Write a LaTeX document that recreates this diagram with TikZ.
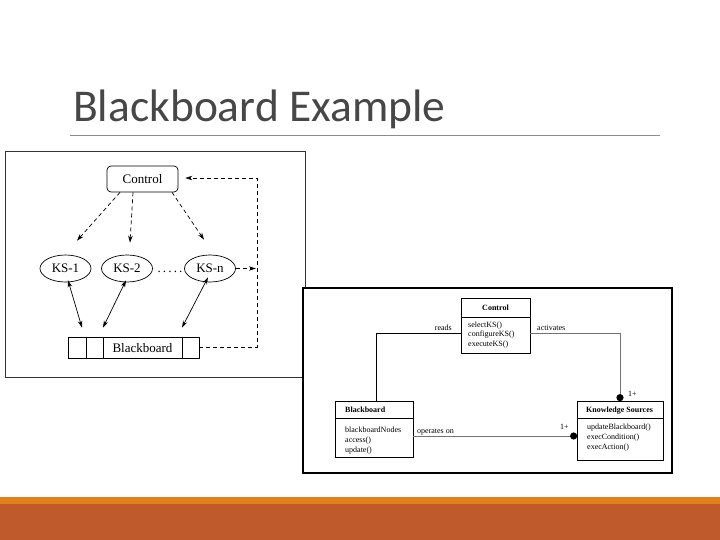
\documentclass[tikz,border=0pt]{standalone}
\usepackage{fontspec}
\setmainfont{Liberation Serif}
\newfontfamily\titlefont{Carlito}
\usetikzlibrary{arrows.meta,shapes.geometric}
\definecolor{titlegray}{HTML}{474747}
\definecolor{barlight}{HTML}{E08219}
\definecolor{bardark}{HTML}{BE5A2C}
\tikzset{
  lfont/.style={font=\fontsize{13}{15}\selectfont},
  rfont/.style={font=\fontsize{8}{9.5}\selectfont, inner sep=0},
  rbold/.style={font=\bfseries\fontsize{8}{9.5}\selectfont, inner sep=0},
  dasharrow/.style={dash pattern=on 4pt off 3pt, line width=0.7pt, -{Stealth[length=7pt,width=4.5pt]}},
  dblarrow/.style={line width=0.7pt, {Stealth[length=7pt,width=4.5pt]}-{Stealth[length=7pt,width=4.5pt]}},
  ksell/.style={ellipse, draw, line width=0.7pt, minimum width=51pt, minimum height=27pt, inner sep=0, lfont},
  classbox/.style={draw, line width=0.7pt, inner sep=0},
}
\begin{document}
\begin{tikzpicture}[x=1pt,y=-1pt]
\useasboundingbox (0,0) rectangle (720,540);
% title
\node[anchor=base west, inner sep=0, text=titlegray, font=\titlefont\fontsize{45.5}{50}\selectfont] (title) at (73,122) {Blackboard Example};
\draw[black!45, line width=1pt] (70,136) -- (660,136);
% bottom bars
\fill[barlight] (0,497) rectangle (720,504);
\fill[bardark] (0,504) rectangle (720,540);

% ---------- left diagram ----------
\draw[black!80, line width=1pt] (5,152) rectangle (305,377);
\node[draw, line width=0.7pt, rounded corners=4pt, minimum width=71pt, minimum height=26pt, inner sep=0, lfont] (ctl) at (142.5,179) {Control};
\node[ksell] (ks1) at (65.5,268.5) {KS-1};
\node[ksell] (ks2) at (127,268.5) {KS-2};
\node[ksell] (ksn) at (210,268.5) {KS-n};
\node[lfont, inner sep=0, anchor=base] (dots) at (170,272) {.\,.\,.\,.\,.};
\node[draw, line width=0.7pt, minimum width=131pt, minimum height=21pt, inner sep=0] (bb) at (133.5,347.5) {};
\draw[line width=0.7pt] (86,337) -- (86,358) (103,337) -- (103,358) (182,337) -- (182,358);
\node[lfont, inner sep=0] (bbt) at (142.5,348) {Blackboard};
% dashed arrows
\draw[dasharrow] ([xshift=-22.5pt]ctl.south) -- ([shift={(11.5,-14)}]ks1.north);
\draw[dasharrow] ([xshift=-9.5pt]ctl.south) -- ([shift={(3,-12)}]ks2.north);
\draw[dasharrow] ([xshift=29.5pt]ctl.south) -- ([shift={(-6,-15)}]ksn.north);
\coordinate (fbx) at (257,0);
\draw[dasharrow] (bb.east) -- (bb.east -| fbx) -- (fbx |- 0,178) -- ([shift={(7,-1)}]ctl.east);
\draw[dasharrow] (ksn.east) -- ([xshift=20pt]ksn.east);
% solid double arrows
\draw[dblarrow] ([shift={(2.5,-2)}]ks1.south) -- ([shift={(-51.5,-9)}]bb.north);
\draw[dblarrow] ([shift={(-1,-2)}]ks2.south) -- ([shift={(-30.5,-9)}]bb.north);
\draw[dblarrow] ([shift={(-2,-5)}]ksn.south) -- ([shift={(48.5,-9)}]bb.north);

% ---------- right diagram ----------
\draw[line width=1.2pt, fill=white] (303,288) rectangle (672,473);
% Control class
\node[classbox, minimum width=69pt, minimum height=55pt] (cctl) at (495.5,325.5) {};
\draw[line width=0.7pt] (cctl.west |- 0,317) -- (cctl.east |- 0,317);
\node[rbold, anchor=base] at (495.5,310) {Control};
\node[rfont, anchor=base west] at (468,327) {selectKS()};
\node[rfont, anchor=base west] at (468,336.5) {configureKS()};
\node[rfont, anchor=base west] at (468,346) {executeKS()};
% Blackboard class
\node[classbox, minimum width=78pt, minimum height=56pt] (cbb) at (374,429) {};
\draw[line width=0.7pt] (cbb.west |- 0,418) -- (cbb.east |- 0,418);
\node[rbold, anchor=base west] at (345,412) {Blackboard};
\node[rfont, anchor=base west] at (345,432.5) {blackboardNodes};
\node[rfont, anchor=base west] at (345,442.5) {access()};
\node[rfont, anchor=base west] at (345,452.5) {update()};
% Knowledge Sources class
\node[classbox, minimum width=86pt, minimum height=59pt] (cks) at (620,430.5) {};
\draw[line width=0.7pt] (cks.west |- 0,418) -- (cks.east |- 0,418);
\node[rbold, anchor=base west] at (586,412) {Knowledge Sources};
\node[rfont, anchor=base west] at (587,429.5) {updateBlackboard()};
\node[rfont, anchor=base west] at (587,439.5) {execCondition()};
\node[rfont, anchor=base west] at (587,449.5) {execAction()};
% connectors
\draw[line width=0.8pt] (cctl.west |- 0,333) -| ([xshift=2pt]cbb.north);
\draw[black!55, line width=0.8pt] (cctl.east |- 0,333) -| (cks.north);
\fill ([yshift=3pt]cks.north) circle (3.6);
\draw[black!55, line width=0.8pt] (cbb.east |- 0,436) -- (cks.west |- 0,436);
\fill ([shift={(-3,0)}]cks.west |- 0,436) circle (3.6);
% labels
\node[rfont, anchor=base east] (lreads) at (452,330) {reads};
\node[rfont, anchor=base west] (lact) at (537,330) {activates};
\node[rfont, anchor=base west] (lop) at (417,433.5) {operates on};
\node[rfont, anchor=base west] (m1) at (560,429.5) {1+};
\node[rfont, anchor=base west] (m2) at (628,396) {1+};
\end{tikzpicture}
\end{document}
